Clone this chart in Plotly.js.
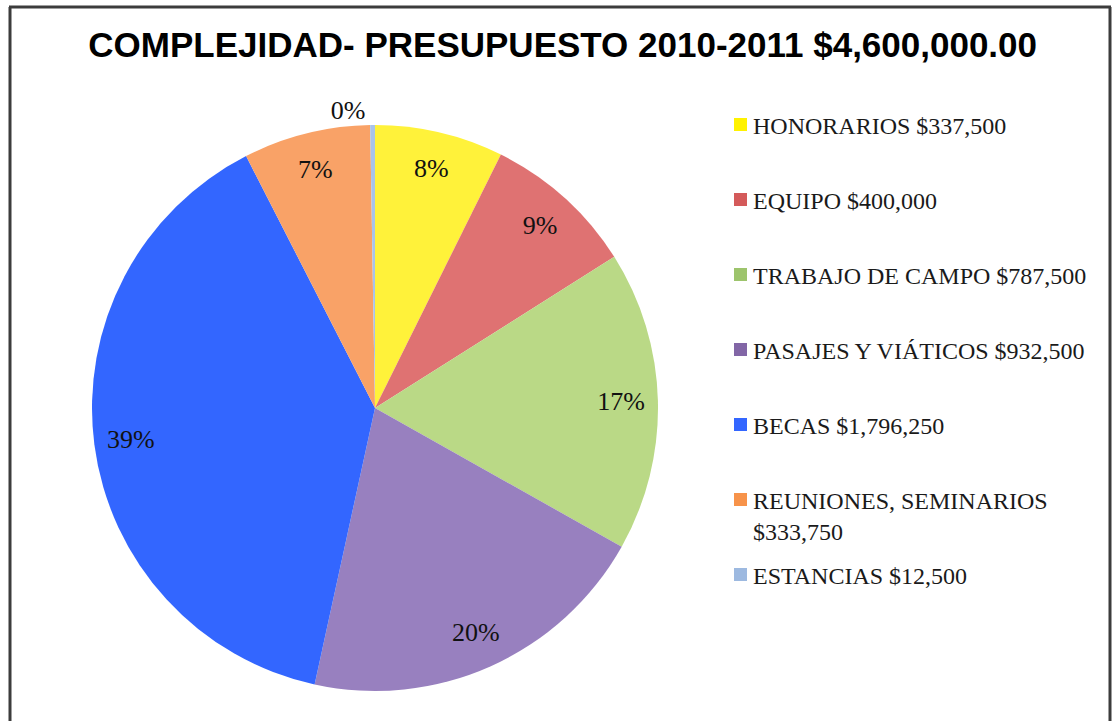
<!DOCTYPE html>
<html>
<head>
<meta charset="utf-8">
<script src="https://cdn.plot.ly/plotly-3.0.1.min.js"></script>
<style>html,body{margin:0;padding:0;background:#fff;} #chart{width:1112px;height:721px;}</style>
</head>
<body>
<div id="chart"></div>
<script>
const categories = ["HONORARIOS", "EQUIPO", "TRABAJO DE CAMPO", "PASAJES Y VIÁTICOS", "BECAS", "REUNIONES, SEMINARIOS", "ESTANCIAS"];
const amounts = [337500, 400000, 787500, 932500, 1796250, 333750, 12500];
const amountLabels = ["$337,500", "$400,000", "$787,500", "$932,500", "$1,796,250", "$333,750", "$12,500"];
const percentLabels = ["8%", "9%", "17%", "20%", "39%", "7%", "0%"];
const sliceColors = ["#FFF23A", "#DF7272", "#BAD986", "#9880BF", "#3366FF", "#F9A267", "#A8C3EA"];
const legendColors = ["#FFF200", "#D45A5A", "#9DC46C", "#8266A6", "#3366FF", "#F7934A", "#9DB9E0"];
const titleText = "COMPLEJIDAD- PRESUPUESTO 2010-2011 $4,600,000.00";

const W = 1112, H = 721;
const px = x => x / W;
const py = y => 1 - y / H;

const legendText = categories.map((c, i) =>
  i === 5 ? c + "<br>" + amountLabels[i] : c + " " + amountLabels[i]);

const pieDomain = {x: [px(92), px(658)], y: [py(691), py(125)]};
const serif = "Liberation Serif, DejaVu Serif, serif";

const fillTrace = {
  type: "pie",
  labels: categories,
  values: amounts,
  sort: false,
  direction: "clockwise",
  rotation: 0,
  marker: {colors: sliceColors, line: {width: 0}},
  textinfo: "none",
  showlegend: false,
  hoverinfo: "label+value+percent",
  domain: pieDomain
};

const labelTrace = {
  type: "pie",
  labels: categories,
  values: amounts,
  sort: false,
  direction: "clockwise",
  rotation: 0,
  hole: 0.74,
  marker: {colors: categories.map(() => "rgba(0,0,0,0)"), line: {width: 0}},
  text: percentLabels,
  textinfo: "text",
  textposition: categories.map((c, i) => i === categories.length - 1 ? "outside" : "inside"),
  insidetextorientation: "horizontal",
  textfont: {family: serif, size: 26, color: "#111"},
  outsidetextfont: {family: serif, size: 26, color: "#111"},
  showlegend: false,
  hoverinfo: "skip",
  domain: pieDomain
};

const shapes = [
  {type: "line", xref: "paper", yref: "paper", x0: px(9), x1: px(1111), y0: py(7), y1: py(7), line: {color: "#3c3c3c", width: 3}},
  {type: "line", xref: "paper", yref: "paper", x0: px(10), x1: px(10), y0: py(7), y1: py(721), line: {color: "#3c3c3c", width: 3}},
  {type: "line", xref: "paper", yref: "paper", x0: px(1110), x1: px(1110), y0: py(7), y1: py(721), line: {color: "#3c3c3c", width: 3}}
];
const annotations = [];
categories.forEach((c, i) => {
  const top = 118 + i * 75;
  shapes.push({type: "rect", xref: "paper", yref: "paper",
    x0: px(734), x1: px(747), y0: py(top), y1: py(top + 13),
    fillcolor: legendColors[i], line: {width: 0}});
  annotations.push({xref: "paper", yref: "paper", x: px(751), y: py(top - 7),
    xanchor: "left", yanchor: "top", align: "left", showarrow: false,
    text: legendText[i],
    font: {family: serif, size: 24, color: "#1a1a1a"}});
});

const layout = {
  width: W, height: H,
  margin: {l: 0, r: 0, t: 0, b: 0},
  paper_bgcolor: "#ffffff",
  title: {text: titleText, x: 0.506, xanchor: "center", y: py(45), yanchor: "middle",
    font: {family: "Liberation Sans Narrow, Arial Narrow, Liberation Sans, sans-serif", size: 35, color: "#000", weight: "bold"}},
  shapes: shapes,
  annotations: annotations,
  showlegend: false
};

Plotly.newPlot("chart", [fillTrace, labelTrace], layout, {displayModeBar: false, staticPlot: true});
</script>
</body>
</html>
